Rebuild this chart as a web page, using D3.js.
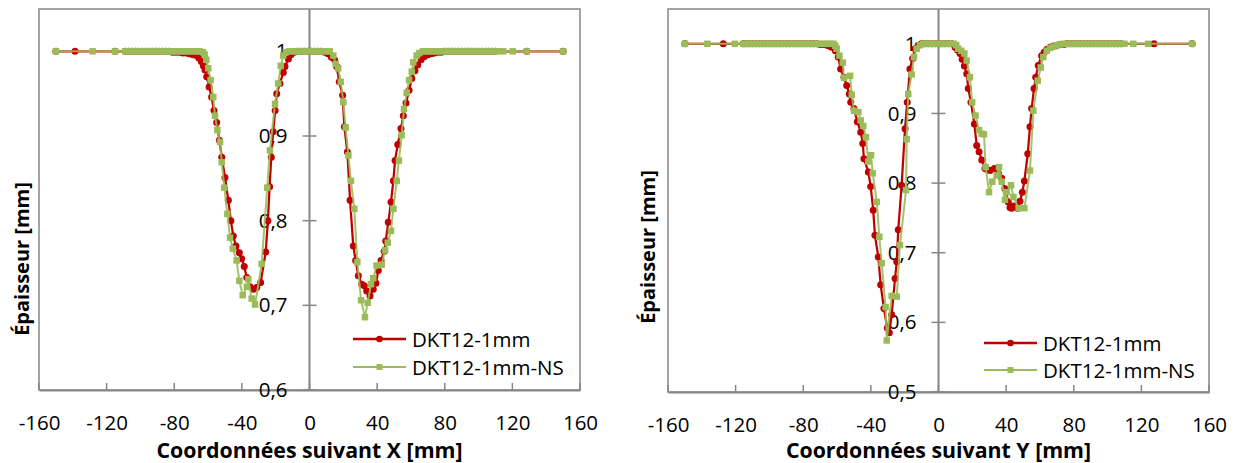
<!DOCTYPE html>
<html><head><meta charset="utf-8">
<script src="https://cdn.jsdelivr.net/npm/d3@7"></script>
<style>
body{margin:0;background:#fff;}
svg text{font-family:"Open Sans",Lato,sans-serif;fill:#000;}
</style>
</head><body>
<svg id="c" width="1239" height="463"></svg>
<script>
// ---------- data ----------
const seriesNames = ["DKT12-1mm", "DKT12-1mm-NS"];
const xTicks = [-160, -120, -80, -40, 0, 40, 80, 120, 160];
const yTicksLeft = [0.6, 0.7, 0.8, 0.9, 1];
const yTicksRight = [0.5, 0.6, 0.7, 0.8, 0.9, 1];
const xTitles = ["Coordonnées suivant X [mm]", "Coordonnées suivant Y [mm]"];
const yTitle = "Épaisseur [mm]";

// Profile along X
const dktX = [[-150,1],[-138.7,1],[-115,1],[-109,1],[-107,1],[-105,1],[-103,1],[-101,1],[-99,1],[-97,1],[-95,1],[-93,1],[-91,1],[-89,1],[-87,1],[-85,1],[-83,1],[-81,0.999],[-79,0.999],[-77,0.999],[-75,0.998],[-73,0.998],[-71,0.997],[-69,0.996],[-67,0.995],[-65.5,0.992],[-64,0.988],[-62.8,0.983],[-61.8,0.978],[-60.8,0.970],[-59.4,0.958],[-57.9,0.946],[-56.5,0.930],[-54.9,0.916],[-53.3,0.895],[-51.9,0.875],[-50,0.851],[-48,0.824],[-46.5,0.800],[-45.1,0.782],[-43.5,0.770],[-41.5,0.762],[-40.1,0.755],[-38.6,0.746],[-37.1,0.733],[-35.2,0.722],[-33.2,0.719],[-31.2,0.721],[-28.9,0.727],[-25.9,0.763],[-24.6,0.800],[-23.6,0.840],[-22.6,0.875],[-21.5,0.905],[-20.3,0.930],[-19.4,0.950],[-17.5,0.962],[-15.5,0.975],[-14.5,0.982],[-12.5,0.991],[-11,0.996],[-9,0.999],[-7,1],[-5,1],[-3,1],[-1,1],[1,1],[3,1],[5,1],[7,1],[9,0.999],[11,0.997],[13,0.993],[14.8,0.990],[16.1,0.982],[17.6,0.964],[19.6,0.948],[20.6,0.911],[22.4,0.881],[24,0.824],[25.9,0.770],[27.3,0.753],[28.9,0.735],[30.9,0.725],[32.4,0.723],[33.8,0.717],[35.8,0.711],[37.7,0.719],[39.3,0.726],[40.7,0.741],[42.3,0.753],[44.2,0.764],[45.1,0.776],[46.6,0.798],[48.2,0.822],[49.6,0.847],[50.6,0.871],[52.2,0.890],[54.1,0.909],[55.5,0.924],[57.1,0.939],[58.9,0.954],[60.5,0.968],[62.4,0.977],[64,0.984],[66,0.990],[68,0.994],[70,0.996],[72,0.997],[74,0.998],[76,0.999],[78,0.999],[80,1],[82,1],[84,1],[86,1],[88,1],[90,1],[92,1],[94,1],[96,1],[98,1],[100,1],[102,1],[104,1],[106,1],[108,1],[110,1],[128.5,1],[150,1]];
const dktNsX = [[-150,1],[-128.3,1],[-115,1],[-109,1],[-107,1],[-105,1],[-103,1],[-101,1],[-99,1],[-97,1],[-95,1],[-93,1],[-91,1],[-89,1],[-87,1],[-85,1],[-83,1],[-81,1],[-79,1],[-77,1],[-75,1],[-73,1],[-71,1],[-69,1],[-67,1],[-65,1],[-63,0.999],[-62,0.996],[-61,0.990],[-59.9,0.980],[-58.5,0.966],[-56.9,0.946],[-55.9,0.924],[-54.5,0.907],[-52.9,0.893],[-51.9,0.869],[-50.4,0.839],[-48.6,0.808],[-47,0.780],[-45.4,0.767],[-43.1,0.753],[-41.5,0.729],[-39.5,0.712],[-37,0.722],[-36.2,0.731],[-34.2,0.708],[-32.2,0.701],[-28.3,0.749],[-25,0.839],[-23.4,0.883],[-20.4,0.938],[-18.5,0.962],[-17,0.983],[-15.5,0.995],[-14,0.999],[-12,1],[-10,1],[-8,1],[-6,1],[-4,1],[-2,1],[0,1],[2,1],[4,1],[6,1],[8,1],[10,1],[12,1],[14.1,0.995],[15.5,0.985],[17,0.980],[18.5,0.964],[20,0.940],[21.4,0.910],[23,0.877],[24.5,0.847],[26.5,0.814],[28.3,0.751],[30.5,0.706],[32.8,0.686],[34.4,0.703],[36.4,0.725],[37.7,0.732],[39.7,0.747],[42.7,0.748],[44.7,0.765],[46.3,0.774],[48.2,0.788],[49.6,0.814],[51.6,0.847],[52.9,0.871],[54.5,0.901],[55.9,0.932],[57.5,0.951],[58.9,0.966],[60.5,0.976],[61.4,0.987],[63.4,0.995],[65,0.998],[67,1],[69,1],[71,1],[73,1],[75,1],[77,1],[79,1],[81,1],[83,1],[85,1],[87,1],[89,1],[91,1],[93,1],[95,1],[97,1],[99,1],[101,1],[103,1],[105,1],[107,1],[109,1],[111,1],[114.6,1],[120.2,1],[128.5,1],[150,1]];

// Profile along Y
const dktY = [[-150,1],[-127.3,1],[-115.5,1],[-114,1],[-112,1],[-110,1],[-108,1],[-106,1],[-104,1],[-102,1],[-100,1],[-98,1],[-96,1],[-94,1],[-92,1],[-90,1],[-88,1],[-86,1],[-84,1],[-82,1],[-80,1],[-78,1],[-76,1],[-74,1],[-72,1],[-70,0.999],[-68,0.999],[-66,0.998],[-64.5,0.997],[-63.2,0.995],[-61,0.990],[-59.3,0.981],[-57.9,0.964],[-55.9,0.952],[-54.3,0.940],[-52.8,0.928],[-51.9,0.916],[-50,0.907],[-48,0.888],[-46,0.873],[-44.8,0.857],[-44.1,0.835],[-41.5,0.816],[-40.1,0.795],[-38.6,0.761],[-37.6,0.725],[-35.6,0.694],[-34.2,0.654],[-32.3,0.620],[-30.3,0.592],[-29.1,0.585],[-27.7,0.611],[-25.7,0.663],[-24.7,0.687],[-23.8,0.733],[-21.8,0.797],[-19.8,0.878],[-18.5,0.916],[-16.9,0.964],[-15.3,0.979],[-13.9,0.993],[-12,0.998],[-10,1],[-8,1],[-6,1],[-4,1],[-2,1],[0,1],[2,1],[4,1],[6,1],[8,1],[9.8,0.995],[11.3,0.991],[12.7,0.986],[14,0.978],[15.3,0.968],[16.7,0.957],[17.6,0.936],[19.2,0.916],[21.2,0.885],[22.6,0.854],[24,0.845],[25.6,0.833],[27.5,0.821],[29,0.819],[30.5,0.818],[33,0.821],[35.4,0.814],[37.4,0.807],[39.3,0.792],[41.3,0.773],[42.3,0.765],[43.3,0.764],[44.3,0.767],[45.5,0.766],[46.8,0.764],[48.2,0.774],[49.6,0.787],[50.8,0.803],[52.8,0.842],[54.1,0.881],[55.1,0.907],[56.5,0.936],[57.5,0.952],[59,0.969],[61,0.983],[62.5,0.988],[64,0.992],[66,0.995],[68,0.997],[70,0.998],[72,0.999],[74,0.999],[76,1],[78,1],[80,1],[82,1],[84,1],[86,1],[88,1],[90,1],[92,1],[94,1],[96,1],[98,1],[100,1],[102,1],[104,1],[106,1],[108,1],[127.5,1],[150,1]];
const dktNsY = [[-150,1],[-136.7,1],[-120.4,1],[-115.5,1],[-114,1],[-112,1],[-110,1],[-108,1],[-106,1],[-104,1],[-102,1],[-100,1],[-98,1],[-96,1],[-94,1],[-92,1],[-90,1],[-88,1],[-86,1],[-84,1],[-82,1],[-80,1],[-78,1],[-76,1],[-74,1],[-72,1],[-70,1],[-68,1],[-66,1],[-64,1],[-62,1],[-61,0.997],[-60.2,0.993],[-58.6,0.983],[-56.6,0.973],[-55.9,0.951],[-52.3,0.954],[-51.3,0.927],[-50,0.904],[-47.4,0.902],[-46,0.890],[-44.5,0.882],[-42.9,0.866],[-41.5,0.831],[-39.9,0.840],[-38.9,0.814],[-36.5,0.773],[-35,0.723],[-33.6,0.685],[-31.3,0.622],[-30.6,0.574],[-27.7,0.638],[-24.7,0.637],[-22.8,0.711],[-19.2,0.790],[-18.8,0.863],[-17.9,0.928],[-15.9,0.956],[-14.5,0.981],[-12.9,0.993],[-11,0.998],[-9,1],[-7,1],[-5,1],[-3,1],[-1,1],[1,1],[3,1],[5,1],[7,1],[9,1],[10.5,0.998],[11.7,0.993],[13.5,0.990],[15.3,0.986],[16.7,0.976],[18.6,0.952],[19.9,0.916],[21.9,0.897],[24,0.876],[25.5,0.871],[26.9,0.870],[27.9,0.823],[29.9,0.787],[31.8,0.802],[34.4,0.811],[35.8,0.823],[37.4,0.802],[39.3,0.776],[40.3,0.787],[42.9,0.797],[44.3,0.780],[47.4,0.764],[50.8,0.764],[54.1,0.818],[56.1,0.904],[58.7,0.947],[60.5,0.966],[62,0.981],[64,0.990],[66,0.994],[67.9,0.996],[70,0.998],[72,0.999],[74,1],[76,1],[78,1],[80,1],[82,1],[84,1],[86,1],[88,1],[90,1],[92,1],[94,1],[96,1],[98,1],[100,1],[102,1],[104,1],[106,1],[108,1],[110,1],[115.2,1],[124,1],[150,1]];

// ---------- drawing ----------
const RED = "#C00000", GREEN = "#9BBB59", AXIS = "#868686";
const FONT = "'Open Sans', Lato, sans-serif";
const svg = d3.select("#c");
const fmt = v => d3.format("~g")(v).replace(".", ",");

const panels = [
  {box:{l:39, r:580, t:9, b:390}, yDomain:[0.6,1.05], yTicks:yTicksLeft, series:[dktX, dktNsX],
   xTitle:xTitles[0], yTitlePos:[21,259], legend:{x1:353, x2:406, y:[339,367]}},
  {box:{l:668, r:1209, t:9, b:392}, yDomain:[0.5,1.05], yTicks:yTicksRight, series:[dktY, dktNsY],
   xTitle:xTitles[1], yTitlePos:[647,247], legend:{x1:984, x2:1037, y:[343,370]}}
];

panels.forEach(p => {
  const g = svg.append("g");
  const x = d3.scaleLinear().domain([-160,160]).range([p.box.l, p.box.r]);
  const y = d3.scaleLinear().domain(p.yDomain).range([p.box.b, p.box.t]);

  // plot area border
  g.append("rect").attr("x", p.box.l).attr("y", p.box.t)
    .attr("width", p.box.r - p.box.l).attr("height", p.box.b - p.box.t)
    .attr("fill", "none").attr("stroke", AXIS).attr("stroke-width", 1.5);

  // x axis (labels) along bottom
  const xa = g.append("g").attr("transform", `translate(0,${p.box.b})`)
    .call(d3.axisBottom(x).tickValues(xTicks).tickSize(0).tickPadding(25).tickFormat(d => d));
  xa.select(".domain").attr("stroke", AXIS).attr("stroke-width", 2);
  xa.selectAll("text").attr("font-size", 20.5).style("font-family", FONT);
  // inside tick marks
  g.selectAll(".xt").data(xTicks).join("line")
    .attr("x1", d => x(d)).attr("x2", d => x(d))
    .attr("y1", p.box.b).attr("y2", p.box.b - 7)
    .attr("stroke", AXIS).attr("stroke-width", 1.5);

  // y axis at x = 0
  const ya = g.append("g").attr("transform", `translate(${x(0)},0)`)
    .call(d3.axisLeft(y).tickValues(p.yTicks).tickSize(0).tickPadding(22).tickFormat(fmt));
  ya.select(".domain").remove();
  ya.selectAll("text").attr("font-size", 20.5).style("font-family", FONT);
  g.append("line").attr("x1", x(0)).attr("x2", x(0)).attr("y1", p.box.t).attr("y2", p.box.b)
    .attr("stroke", AXIS).attr("stroke-width", 2);
  g.selectAll(".yt").data(p.yTicks).join("line")
    .attr("x1", x(0) - 7).attr("x2", x(0) + 7)
    .attr("y1", d => y(d)).attr("y2", d => y(d))
    .attr("stroke", AXIS).attr("stroke-width", 1.5);

  // titles
  g.append("text").attr("x", (p.box.l + p.box.r)/2).attr("y", 458)
    .attr("text-anchor", "middle").attr("font-size", 21.3).attr("font-weight", "bold")
    .text(p.xTitle);
  g.append("text").attr("transform", `translate(${p.yTitlePos[0]},${p.yTitlePos[1]}) rotate(-90)`)
    .attr("text-anchor", "middle").attr("dominant-baseline", "central")
    .attr("font-size", 20).attr("font-weight", "bold").text(yTitle);

  const line = d3.line().x(d => x(d[0])).y(d => y(d[1]));
  const [red, green] = p.series;

  // red series
  g.append("path").datum(red).attr("d", line).attr("fill", "none")
    .attr("stroke", RED).attr("stroke-width", 2.25).attr("stroke-linejoin", "round");
  g.selectAll(".rm").data(red).join("circle")
    .attr("cx", d => x(d[0])).attr("cy", d => y(d[1])).attr("r", 3.5).attr("fill", RED);

  // green series
  g.append("path").datum(green).attr("d", line).attr("fill", "none")
    .attr("stroke", GREEN).attr("stroke-width", 2).attr("stroke-linejoin", "round").attr("opacity", 0.9);
  g.selectAll(".gm").data(green).join("rect")
    .attr("x", d => x(d[0]) - 3.25).attr("y", d => y(d[1]) - 3.25)
    .attr("width", 6.5).attr("height", 6.5).attr("fill", GREEN);

  // legend
  const L = p.legend;
  seriesNames.forEach((name, i) => {
    const ly = L.y[i], col = i === 0 ? RED : GREEN;
    g.append("line").attr("x1", L.x1).attr("x2", L.x2).attr("y1", ly).attr("y2", ly)
      .attr("stroke", col).attr("stroke-width", i === 0 ? 2.5 : 2);
    const cx = (L.x1 + L.x2)/2;
    if (i === 0) g.append("circle").attr("cx", cx).attr("cy", ly).attr("r", 3.3).attr("fill", col);
    else g.append("rect").attr("x", cx - 3).attr("y", ly - 3).attr("width", 6).attr("height", 6).attr("fill", col);
    g.append("text").attr("x", L.x2 + 6).attr("y", ly).attr("dominant-baseline", "central")
      .attr("font-size", 20.5).text(name);
  });
});
</script>
</body></html>
